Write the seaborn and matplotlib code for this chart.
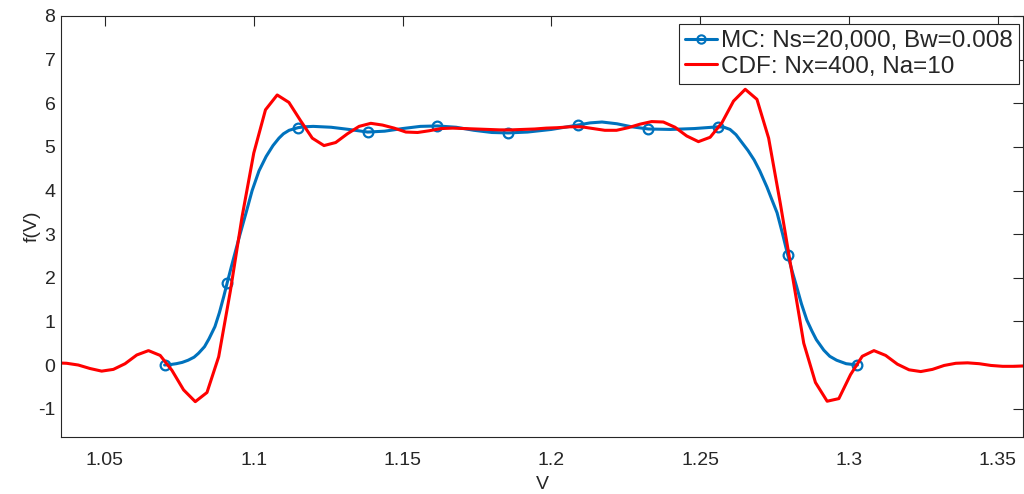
import seaborn as sns
import matplotlib.pyplot as plt
from matplotlib.lines import Line2D

# MC kernel density
mc_v = [1.0701, 1.0720, 1.0740, 1.0760, 1.0780, 1.0800, 1.0815, 1.0835, 1.0850, 1.0870,
        1.0885, 1.0900, 1.0911, 1.0925, 1.0952, 1.0975, 1.0995, 1.1018, 1.1042, 1.1065,
        1.1085, 1.1100, 1.1119, 1.1149, 1.1170, 1.1200, 1.1260, 1.1320, 1.1383, 1.1440,
        1.1500, 1.1560, 1.1617, 1.1680, 1.1740, 1.1800, 1.1855, 1.1920, 1.2000, 1.2089,
        1.2130, 1.2170, 1.2220, 1.2270, 1.2326, 1.2400, 1.2480, 1.2560, 1.2580, 1.2600,
        1.2620, 1.2640, 1.2660, 1.2681, 1.2700, 1.2724, 1.2740, 1.2758, 1.2776, 1.2794,
        1.2810, 1.2824, 1.2840, 1.2858, 1.2875, 1.2890, 1.2915, 1.2935, 1.2958, 1.2990,
        1.3028]
mc_f = [0.00, 0.01, 0.03, 0.06, 0.11, 0.18, 0.27, 0.42, 0.60, 0.88,
        1.20, 1.58, 1.88, 2.25, 2.94, 3.50, 4.00, 4.45, 4.78, 5.03,
        5.20, 5.30, 5.38, 5.44, 5.46, 5.47, 5.45, 5.40, 5.34, 5.36,
        5.42, 5.47, 5.48, 5.45, 5.38, 5.33, 5.32, 5.34, 5.40, 5.50,
        5.55, 5.57, 5.53, 5.46, 5.41, 5.40, 5.42, 5.46, 5.45, 5.40,
        5.28, 5.10, 4.92, 4.70, 4.45, 4.08, 3.80, 3.49, 3.02, 2.52,
        2.12, 1.79, 1.40, 1.03, 0.78, 0.58, 0.34, 0.20, 0.11, 0.03,
        0.00]

# marker positions on the MC curve
mc_mark_v = [1.0701, 1.0911, 1.1149, 1.1383, 1.1617, 1.1855, 1.2089, 1.2326, 1.2560, 1.2794, 1.3028]
mc_mark_f = [0.00, 1.88, 5.44, 5.34, 5.48, 5.32, 5.50, 5.41, 5.46, 2.52, 0.00]

# CDF based estimate (piecewise linear)
cdf_v = [1.03324, 1.03717, 1.04110, 1.04503, 1.04896, 1.05289, 1.05682, 1.06075, 1.06468, 1.06861,
         1.07254, 1.07647, 1.08040, 1.08433, 1.08826, 1.09219, 1.09612, 1.10005, 1.10398, 1.10791,
         1.11184, 1.11577, 1.11970, 1.12363, 1.12756, 1.13149, 1.13542, 1.13935, 1.14328, 1.14721,
         1.15114, 1.15507, 1.15900, 1.16293, 1.16686, 1.17079, 1.17472, 1.17865, 1.18258, 1.18651,
         1.19044, 1.19437, 1.19830, 1.20223, 1.20616, 1.21009, 1.21402, 1.21795, 1.22188, 1.22581,
         1.22974, 1.23367, 1.23760, 1.24153, 1.24546, 1.24939, 1.25332, 1.25725, 1.26118, 1.26511,
         1.26904, 1.27297, 1.27690, 1.28083, 1.28476, 1.28869, 1.29262, 1.29655, 1.30048, 1.30441,
         1.30834, 1.31227, 1.31620, 1.32013, 1.32406, 1.32799, 1.33192, 1.33585, 1.33978, 1.34371,
         1.34764, 1.35157, 1.35550, 1.35943]
cdf_f = [0.05, 0.04, 0.00, -0.08, -0.14, -0.10, 0.03, 0.23, 0.33, 0.22,
         -0.12, -0.57, -0.84, -0.63, 0.19, 1.70, 3.40, 4.86, 5.85, 6.19,
         6.02, 5.60, 5.20, 5.03, 5.10, 5.30, 5.47, 5.54, 5.50, 5.43,
         5.34, 5.33, 5.37, 5.42, 5.43, 5.42, 5.41, 5.40, 5.39, 5.39,
         5.40, 5.41, 5.43, 5.44, 5.46, 5.46, 5.42, 5.38, 5.38, 5.44,
         5.52, 5.58, 5.57, 5.45, 5.25, 5.12, 5.22, 5.55, 6.05, 6.32,
         6.09, 5.20, 3.70, 2.10, 0.50, -0.40, -0.83, -0.77, -0.22, 0.20,
         0.33, 0.22, 0.02, -0.11, -0.15, -0.10, -0.01, 0.04, 0.05, 0.03,
         -0.01, -0.03, -0.03, -0.02]

x_ticks = [1.05, 1.1, 1.15, 1.2, 1.25, 1.3, 1.35]
x_tick_labels = ['1.05', '1.1', '1.15', '1.2', '1.25', '1.3', '1.35']
y_ticks = [-1, 0, 1, 2, 3, 4, 5, 6, 7, 8]
mc_label = 'MC: Ns=20,000, Bw=0.008'
cdf_label = 'CDF: Nx=400, Na=10'

blue = '#0072BD'
red = '#FF0000'
dark = '#262626'

sns.set_style('white')
plt.rcParams['font.family'] = ['Liberation Sans', 'DejaVu Sans']
plt.rcParams['axes.unicode_minus'] = False

fig = plt.figure(figsize=(10.24, 4.94), dpi=100)
ax = fig.add_axes([61 / 1024, 57 / 494, 962 / 1024, 421 / 494])

sns.lineplot(x=mc_v, y=mc_f, ax=ax, color=blue, lw=2.2, sort=False, estimator=None)
ax.plot(mc_mark_v, mc_mark_f, 'o', mfc='none', mec=blue, ms=7, mew=1.6)
sns.lineplot(x=cdf_v, y=cdf_f, ax=ax, color=red, lw=2.2, sort=False, estimator=None)

ax.set_xlim(1.0353, 1.3584)
ax.set_ylim(-1.65, 8)
ax.set_xticks(x_ticks)
ax.set_xticklabels(x_tick_labels)
ax.set_yticks(y_ticks)

ax.tick_params(direction='in', length=7, width=0.8, top=True, right=True,
               color=dark, labelcolor=dark, labelsize=14)
ax.tick_params(axis='x', pad=11)
ax.tick_params(axis='y', pad=4)
for s in ax.spines.values():
    s.set_color(dark)
    s.set_linewidth(0.8)

ax.set_xlabel('V', fontsize=14, color=dark, labelpad=5)
ax.set_ylabel('f(V)', fontsize=14, color=dark, labelpad=-2)

handles = [Line2D([], [], color=blue, lw=2.2, marker='o', mfc='none', mec=blue, ms=6, mew=1.5),
           Line2D([], [], color=red, lw=2.2)]
leg = ax.legend(handles, [mc_label, cdf_label], loc='upper right', bbox_to_anchor=(0.9958, 0.981),
                borderaxespad=0, fontsize=17.5, handlelength=1.35, handletextpad=0.15,
                labelspacing=0.15, borderpad=0.25, fancybox=False, framealpha=1, edgecolor=dark)
leg.get_frame().set_linewidth(0.8)

fig.savefig('out.png', dpi=100)
